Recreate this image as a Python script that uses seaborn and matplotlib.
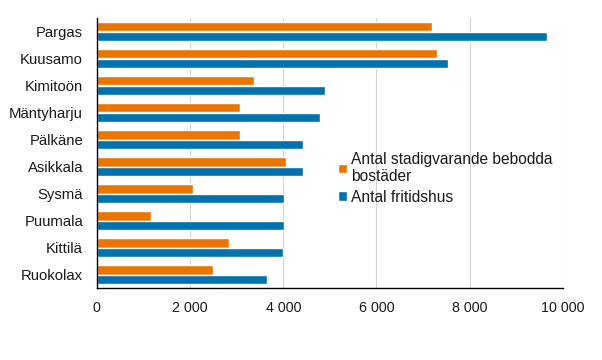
import matplotlib
matplotlib.use("Agg")
import matplotlib.pyplot as plt
from matplotlib.ticker import FuncFormatter
import seaborn as sns
import pandas as pd

kommuner = ["Pargas", "Kuusamo", "Kimitoön", "Mäntyharju", "Pälkäne",
            "Asikkala", "Sysmä", "Puumala", "Kittilä", "Ruokolax"]
stadigvarande = [7200, 7300, 3380, 3060, 3060, 4050, 2060, 1160, 2840, 2500]
fritidshus = [9660, 7530, 4900, 4790, 4420, 4420, 4010, 4010, 3990, 3660]

lab_stad = "Antal stadigvarande bebodda\nbostäder"
lab_frit = "Antal fritidshus"

df = pd.DataFrame({
    "kommun": kommuner * 2,
    "antal": stadigvarande + fritidshus,
    "serie": [lab_stad] * len(kommuner) + [lab_frit] * len(kommuner),
})

sns.set_style("white")
plt.rcParams["font.family"] = ["Liberation Sans", "DejaVu Sans"]

fig = plt.figure(figsize=(6.02, 3.6), dpi=100)
ax = fig.add_axes([0.161, 0.2, 0.774, 0.75])

sns.barplot(data=df, y="kommun", x="antal", hue="serie", orient="h",
            palette=["#EC7500", "#0072AE"], width=0.68, saturation=1,
            errorbar=None, ax=ax)

ax.set_xlim(0, 10000)
ax.set_xticks(range(0, 10001, 2000))
ax.xaxis.set_major_formatter(FuncFormatter(lambda v, p: f"{int(v):,}".replace(",", " ")))
ax.grid(axis="x", color="#d4d4d4", linewidth=0.8)
ax.set_axisbelow(True)
ax.set_xlabel("")
ax.set_ylabel("")
ax.tick_params(axis="both", length=0, colors="#1a1a1a")
ax.tick_params(axis="x", pad=9, labelsize=10.3)
ax.tick_params(axis="y", pad=10, labelsize=10.7)

for s in ["top", "right"]:
    ax.spines[s].set_visible(False)
for s in ["left", "bottom"]:
    ax.spines[s].set_color("black")
    ax.spines[s].set_linewidth(1)

leg = ax.legend(loc="upper left", bbox_to_anchor=(0.505, 0.528), frameon=False,
                fontsize=11.2, handlelength=0.55, handleheight=0.55, handletextpad=0.25,
                labelspacing=0.35, borderaxespad=0)
for t in leg.get_texts():
    t.set_color("#1a1a1a")

fig.savefig("out.png", dpi=100)
